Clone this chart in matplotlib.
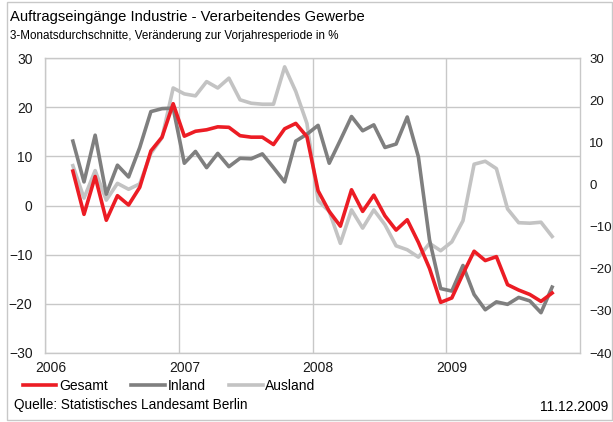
import matplotlib
matplotlib.use("Agg")
import matplotlib.pyplot as plt
import numpy as np
import pandas as pd

plt.rcParams['font.family'] = ['Liberation Sans', 'DejaVu Sans']

# monthly 3-month averages, Mar 2006 .. Oct 2009
months = pd.period_range('2006-03', '2009-10', freq='M')

gesamt = [7.0, -1.8, 5.9, -3.0, 2.0, 0.1, 3.7, 11.1, 13.9, 20.7,
          14.1, 15.1, 15.4, 16.0, 15.9, 14.2, 13.9, 13.9, 12.4, 15.6, 16.7, 14.0,
          3.0, -1.2, -4.2, 3.2, -1.2, 2.1, -2.1, -5.0, -2.9, -7.5, -12.8, -19.7,
          -18.8, -13.9, -9.3, -11.2, -10.4, -16.1, -17.2, -18.1, -19.5, -17.8]
inland = [13.1, 4.8, 14.3, 2.3, 8.2, 5.8, 11.8, 19.1, 19.7, 19.8,
          8.6, 11.0, 7.7, 10.6, 7.9, 9.6, 9.5, 10.5, 7.7, 4.8, 13.1, 14.5,
          16.3, 8.6, 13.3, 18.1, 15.2, 16.4, 11.8, 12.5, 18.0, 9.9, -7.0, -16.9,
          -17.4, -12.2, -18.1, -21.2, -19.6, -20.1, -18.7, -19.4, -21.8, -16.6]
ausland = [8.1, 1.5, 7.1, 1.1, 4.5, 3.3, 4.4, 10.6, 13.8, 23.9,
           22.7, 22.3, 25.2, 23.9, 25.9, 21.5, 20.8, 20.6, 20.6, 28.2, 23.2, 16.7,
           1.0, -1.2, -7.7, -0.9, -4.6, -0.9, -3.9, -8.2, -9.0, -10.5, -7.7, -9.2,
           -7.4, -3.1, 8.4, 9.0, 7.5, -0.7, -3.5, -3.6, -3.4, -6.3]

years = [2006, 2007, 2008, 2009]

x = months.year + (months.month - 0.5) / 12

grid_c = '#C8C8C8'

fig = plt.figure(figsize=(6.13, 4.22), dpi=100)
ax = fig.add_axes([45/613, 1-353/422, 535/613, 295/422])

ax.plot(x, gesamt, color='#EC1C24', lw=2.6, label='Gesamt', zorder=5)
ax.plot(x, inland, color='#7F7F7F', lw=2.6, label='Inland', zorder=4)
ax.plot(x, ausland, color='#C3C3C3', lw=2.6, label='Ausland', zorder=3)

ax.set_xlim(2006, 2010)
ax.set_ylim(-30, 30)
ax.set_yticks(np.arange(-30, 31, 10))
ax.set_xticks(years)
ax.set_xticklabels([])
ax.set_xticks([y + 1/24 for y in years], minor=True)
ax.set_xticklabels([str(y) for y in years], minor=True)
ax.grid(True, color=grid_c, lw=1)
ax.tick_params(which='both', length=0, labelsize=10, colors='#1a1a1a')
ax.tick_params(axis='y', pad=9)
ax.tick_params(axis='x', which='minor', pad=6)
for s in ax.spines.values():
    s.set_color(grid_c)
    s.set_linewidth(1)

# right-hand scale runs -40..30 over the same height
ax2 = ax.twinx()
ax2.set_ylim(-40, 30)
ax2.set_yticks(np.arange(-40, 31, 10))
ax2.tick_params(length=0, labelsize=9.5, pad=6.5, colors='#1a1a1a')
for s in ax2.spines.values():
    s.set_visible(False)

fig.text(10/613, 1-17/422, 'Auftragseingänge Industrie - Verarbeitendes Gewerbe',
         fontsize=10.6, va='center', ha='left')
fig.text(10/613, 1-36/422, '3-Monatsdurchschnitte, Veränderung zur Vorjahresperiode in %',
         fontsize=8.4, va='center', ha='left')

fig.legend(loc='center left', bbox_to_anchor=(23/613, 1-386/422), ncol=3,
           frameon=False, fontsize=10, handlelength=2.4, handletextpad=0.2,
           columnspacing=1.7, borderpad=0, borderaxespad=0)

fig.text(14/613, 1-405/422, 'Quelle: Statistisches Landesamt Berlin', fontsize=9.8,
         va='center', ha='left')
fig.text(608/613, 1-407/422, '11.12.2009', fontsize=10, va='center', ha='right')

fig.add_artist(plt.Rectangle((7/613, 2/422), 605/613, 418/422, transform=fig.transFigure,
                             fill=False, edgecolor=grid_c, lw=1))

fig.savefig('out.png', dpi=100)
